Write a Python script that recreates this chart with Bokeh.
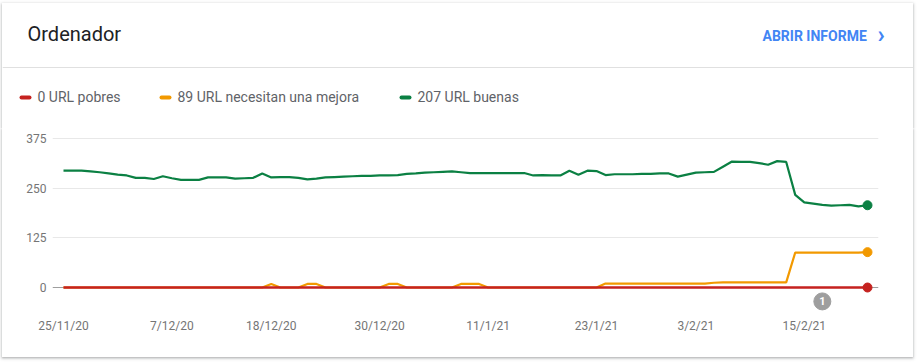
import pandas as pd
from bokeh.plotting import figure
from bokeh.models import (Range1d, FixedTicker, CustomJSTickFormatter, Label, Span)
from bokeh.core.properties import value
from bokeh.embed import file_html
from bokeh.resources import INLINE

# ---------------- data ----------------
start_date = "2020-11-25"
n_days = 90
dates = pd.date_range(start_date, periods=n_days, freq="D")

good = [294, 294, 294, 292, 290, 287, 284, 282, 276, 276,
        273, 280, 275, 271, 271, 271, 277, 277, 277, 274,
        275, 276, 287, 277, 278, 278, 276, 272, 274, 277,
        278, 279, 280, 281, 281, 282, 282, 283, 286, 287,
        289, 290, 291, 292, 290, 288, 288, 288, 288, 288,
        288, 288, 282, 283, 282, 282, 294, 284, 294, 293,
        283, 285, 285, 285, 286, 286, 287, 287, 279, 284,
        289, 290, 291, 304, 317, 316, 316, 313, 309, 318,
        316, 233, 214, 211, 208, 206, 207, 208, 204, 207]

needs_improvement = [0, 0, 0, 0, 0, 0, 0, 0, 0, 0,
                     0, 0, 0, 0, 0, 0, 0, 0, 0, 0,
                     0, 0, 0, 9, 0, 0, 0, 9, 9, 0,
                     0, 0, 0, 0, 0, 0, 9, 9, 0, 0,
                     0, 0, 0, 0, 9, 9, 9, 0, 0, 0,
                     0, 0, 0, 0, 0, 0, 0, 0, 0, 0,
                     10, 10, 10, 10, 10, 10, 10, 10, 10, 10,
                     10, 10, 12, 13, 13, 13, 13, 13, 13, 13,
                     13, 88, 88, 88, 88, 88, 88, 88, 88, 89]

poor = [0, 0, 0, 0, 0, 0, 0, 0, 0, 0,
        0, 0, 0, 0, 0, 0, 0, 0, 0, 0,
        0, 0, 0, 0, 0, 0, 0, 0, 0, 0,
        0, 0, 0, 0, 0, 0, 0, 0, 0, 0,
        0, 0, 0, 0, 0, 0, 0, 0, 0, 0,
        0, 0, 0, 0, 0, 0, 0, 0, 0, 0,
        0, 0, 0, 0, 0, 0, 0, 0, 0, 0,
        0, 0, 0, 0, 0, 0, 0, 0, 0, 0,
        0, 0, 0, 0, 0, 0, 0, 0, 0, 0]

x_tick_dates = ["2020-11-25", "2020-12-07", "2020-12-18", "2020-12-30",
                "2021-01-11", "2021-01-23", "2021-02-03", "2021-02-15"]
y_ticks = [0, 125, 250, 375]

annotation_dates = ["2021-02-17"]
annotation_texts = ["1"]

series_names = ["URL pobres", "URL necesitan una mejora", "URL buenas"]
title_text = "Ordenador"
link_text = "ABRIR INFORME"

# ---------------- styles ----------------
RED = "#c5221f"
ORANGE = "#f29900"
GREEN = "#0b8043"
FONT = "Roboto"
W = 911
HEAD_H = 125
CHART_H = 229
SHADOW = "0 1px 2px 0 rgba(60,64,67,0.3), 0 1px 3px 1px rgba(60,64,67,0.15)"

# ---------------- header (title, link, divider, legend) ----------------
hp = figure(width=W, height=HEAD_H, output_backend="svg", toolbar_location=None,
            x_range=Range1d(0, W), y_range=Range1d(HEAD_H, 0),
            min_border=0, x_axis_location=None, y_axis_location=None)
hp.grid.visible = False
hp.outline_line_color = None
hp.background_fill_color = "white"
hp.border_fill_color = "white"
hp.styles = {"position": "absolute", "left": "2px", "top": "3px",
             "box-shadow": SHADOW, "clip-path": "inset(-6px -6px 0px -6px)"}

hp.add_layout(Label(x=25, y=30, text=title_text, text_font=FONT, text_font_size="20px",
                    text_color="#202124", text_baseline="middle"))
hp.add_layout(Label(x=760, y=32, text=link_text, text_font=FONT, text_font_size="14px",
                    text_font_style="bold", text_color="#4285f4", text_baseline="middle"))
hp.add_layout(Label(x=875, y=31, text="›", text_font=FONT, text_font_size="24px",
                    text_font_style="bold", text_color="#4285f4", text_baseline="middle"))
hp.add_layout(Span(location=64, dimension="width", line_color="#e0e0e0", line_width=1))

legend_vals = [poor[-1], needs_improvement[-1], good[-1]]
legend_cols = [RED, ORANGE, GREEN]
legend_x = [17, 157, 397]
for xx, v, name, c in zip(legend_x, legend_vals, series_names, legend_cols):
    hp.segment(x0=[xx + 2], y0=[94], x1=[xx + 10], y1=[94],
               line_color=c, line_width=4, line_cap="round")
    hp.add_layout(Label(x=xx + 18, y=93.5, text=f"{v} {name}", text_font=FONT,
                        text_font_size="14px", text_color="#5f6368",
                        text_baseline="middle"))

# ---------------- chart ----------------
pad = pd.Timedelta(hours=29.2)
cp = figure(width=W, height=CHART_H, x_axis_type="datetime", output_backend="svg",
            toolbar_location=None,
            x_range=Range1d(dates[0] - pad, dates[-1] + pad),
            y_range=Range1d(-62.9, 395.1),
            min_border_left=50, min_border_right=35,
            min_border_top=2, min_border_bottom=45)
cp.outline_line_color = None
cp.background_fill_color = "white"
cp.border_fill_color = "white"
cp.styles = {"position": "absolute", "left": "2px", "top": f"{3 + HEAD_H}px",
             "box-shadow": SHADOW, "clip-path": "inset(0px -6px -6px -6px)"}

tick_ms = [pd.Timestamp(d).value // 10**6 for d in x_tick_dates]
cp.xaxis.ticker = FixedTicker(ticks=tick_ms)
cp.xaxis.formatter = CustomJSTickFormatter(code="""
const d = new Date(tick);
return d.getUTCDate() + '/' + (d.getUTCMonth() + 1) + '/' + String(d.getUTCFullYear()).slice(2);
""")
cp.yaxis.ticker = FixedTicker(ticks=y_ticks)
for ax in (cp.xaxis, cp.yaxis):
    ax.axis_line_color = None
    ax.major_tick_line_color = None
    ax.minor_tick_line_color = None
    ax.major_tick_out = 0
    ax.major_tick_in = 0
    ax.major_label_text_font = FONT
    ax.major_label_text_font_size = "12px"
    ax.major_label_text_color = "#757575"
cp.xaxis.major_label_standoff = 6
cp.yaxis.major_label_standoff = 6

cp.xgrid.grid_line_color = None
cp.ygrid.ticker = FixedTicker(ticks=[t for t in y_ticks if t != 0])
cp.ygrid.grid_line_color = "#e8e8e8"
cp.ygrid.grid_line_width = 1
cp.add_layout(Span(location=0, dimension="width", line_color="#9e9e9e", line_width=1,
                   level="underlay"))

cp.line(dates, good, line_color=GREEN, line_width=2.2)
cp.line(dates, needs_improvement, line_color=ORANGE, line_width=2.2)
cp.line(dates, poor, line_color=RED, line_width=2.5)
cp.scatter([dates[-1]], [good[-1]], size=9, color=GREEN)
cp.scatter([dates[-1]], [needs_improvement[-1]], size=9, color=ORANGE)
cp.scatter([dates[-1]], [poor[-1]], size=9, color=RED)

ann_x = [pd.Timestamp(d) for d in annotation_dates]
cp.scatter(ann_x, [-35], size=17, color="#9e9e9e")
cp.text(ann_x, [-35], text=annotation_texts, text_align="center", text_baseline="middle",
        text_color="white", text_font=value(FONT), text_font_size="11px",
        text_font_style="bold")

open("out.html", "w").write(file_html([hp, cp], INLINE))
